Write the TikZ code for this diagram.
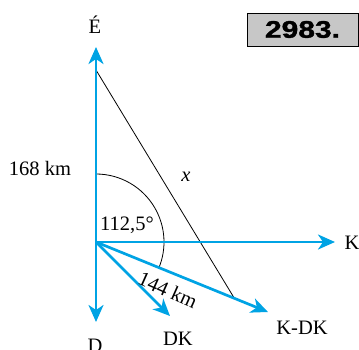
\documentclass[tikz,border=0pt]{standalone}
\usepackage{fontspec}
\setmainfont{Liberation Serif}
\newfontfamily\boxfont[FakeStretch=1.25,FakeBold=1.5]{Liberation Sans Bold}
\usetikzlibrary{arrows.meta}
\definecolor{vblue}{RGB}{0,163,228}
\tikzset{
  vec/.style={draw=vblue, line width=2.7pt, -{Stealth[length=17pt, width=15pt, inset=5pt]}},
  lbl/.style={font=\fontsize{20.5}{22}\selectfont, inner sep=0pt},
  thin/.style={draw=black, line width=0.8pt},
}
\begin{document}
\begin{tikzpicture}[x=1pt, y=-1pt]
\useasboundingbox (0,0) rectangle (359,349);
\coordinate (O) at (96,242);
\coordinate (N) at (96,47);
\coordinate (S) at (96,322);
\coordinate (E) at (335,242);
\coordinate (DK) at (170,316);
\coordinate (KDK) at (268,312);
\coordinate (Xt) at (96,70);
\coordinate (Xe) at (234,297.7);
% thin line x
\draw[thin] (Xt) -- (Xe);
% arc
\draw[thin] (96,174) arc[start angle=-90, end angle=22.5, radius=68];
% vectors
\draw[vec] (O) -- (N);
\draw[vec] (O) -- (S);
\draw[vec] (O) -- (E);
\draw[vec] (O) -- (DK);
\draw[vec] (O) -- (KDK);
% labels
\node[lbl] (lN) at (95,25) {É};
\node[lbl] (lS) at (95,346) {D};
\node[lbl] (lE) at (352,243) {K};
\node[lbl] (lDK) at (178,339) {DK};
\node[lbl] (lKDK) at (302,328) {K-DK};
\node[lbl] (l168) at (40,168) {168 km};
\node[lbl] (lang) at (127,225) {112,5°};
\node[lbl] (lx) at (186,177) {\itshape x};
\node[lbl, rotate=-24] (l144) at (168,290) {144 km};
% box
\node[draw=black, line width=1pt, fill=black!22, minimum width=111pt, minimum height=33pt, inner sep=0pt,
      font=\boxfont\fontsize{24}{26}\selectfont] (box) at (302.5,29.5) {2983.};
\end{tikzpicture}
\end{document}
